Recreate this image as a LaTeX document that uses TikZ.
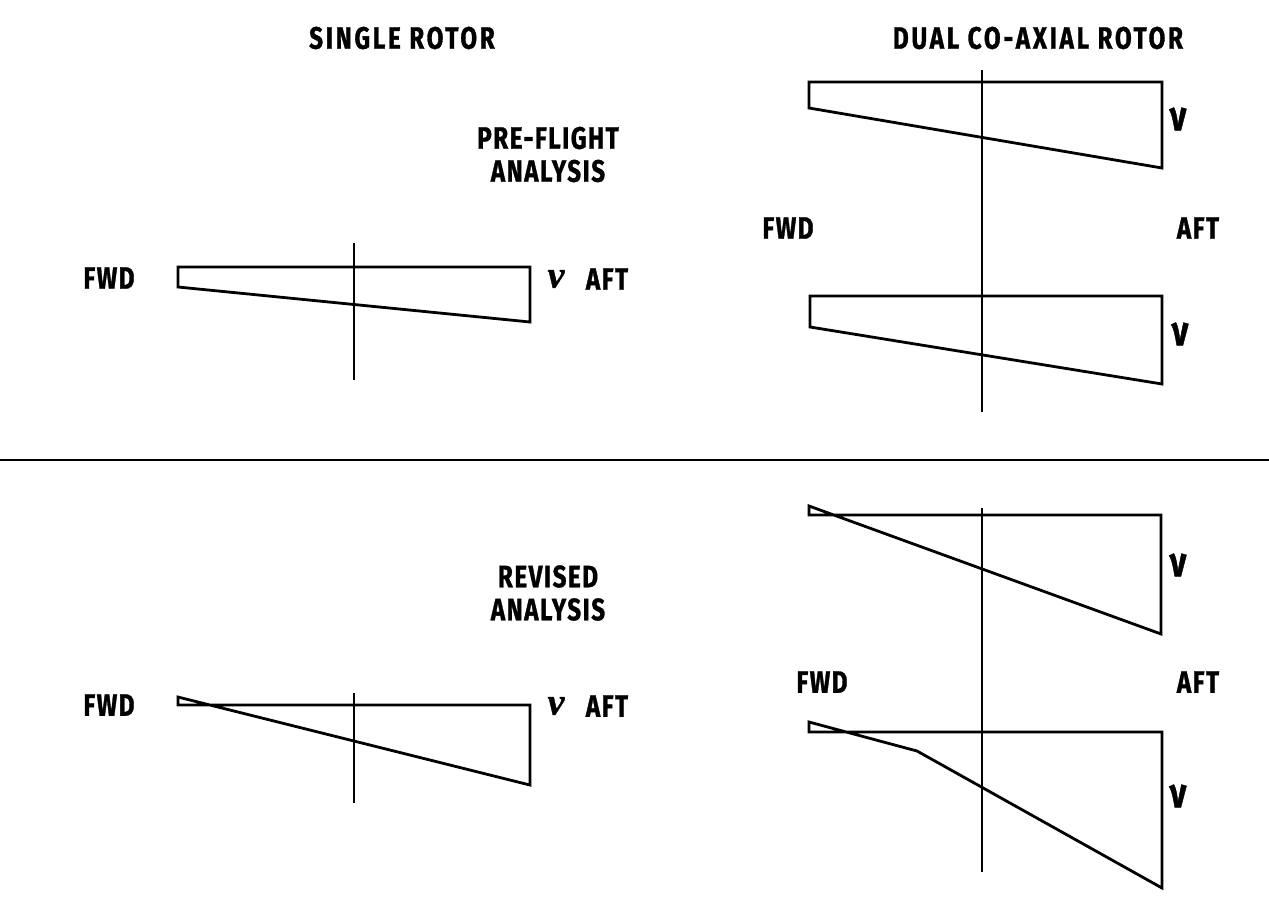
\documentclass[tikz,border=0pt]{standalone}
\usepackage{fontspec}
\newfontfamily\labfont{Fira Sans}[FakeStretch=0.78,LetterSpace=5,FakeBold=1]
\newfontfamily\titfont{Fira Sans}[FakeStretch=0.78,LetterSpace=9,FakeBold=1]
\newfontfamily\nufont{Liberation Serif}[FakeBold=1]
\begin{document}
\begin{tikzpicture}[x=1pt,y=-1pt,
  lab/.style={font=\labfont\bfseries\fontsize{31}{33}\selectfont, inner sep=0pt, align=center},
  tit/.style={font=\titfont\bfseries\fontsize{31}{33}\selectfont, inner sep=0pt, align=center},
  nuit/.style={font=\nufont\bfseries\itshape\fontsize{38}{40}\selectfont, inner sep=0pt},
  nuup/.style={font=\labfont\bfseries\fontsize{42}{44}\selectfont, inner sep=0pt},
  diag/.style={line width=2.8pt, line join=miter},
  axisline/.style={line width=2.5pt}]
\useasboundingbox (0,0) rectangle (1269,900);

% titles
\node[tit] (t1) at (402,38) {SINGLE ROTOR};
\node[tit] (t2) at (1038,38) {DUAL CO-AXIAL ROTOR};
\node[lab] (pf) at (548,154.5) {PRE-FLIGHT\\ANALYSIS};
\node[lab] (rv) at (548,593) {REVISED\\ANALYSIS};

% separator
\coordinate (sL) at (0,460);
\coordinate (sR) at (1269,460);
\draw[line width=2.5pt] (sL) -- (sR);

% ---------- single rotor, pre-flight
\draw[diag] (178,267) -- (530,267) -- (530,322) -- (178,287) -- cycle;
\draw[axisline] (354,243) -- (354,380);
\node[lab] (f1) at (109,278) {FWD};
\node[nuit] (n1) at (556,279) {ν};
\node[lab] (a1) at (607,279) {AFT};

% ---------- dual rotor, pre-flight
\draw[diag] (809,82) -- (1162,82) -- (1162,168) -- (809,108) -- cycle;
\draw[diag] (810,296) -- (1162,296) -- (1162,384) -- (810,327) -- cycle;
\draw[axisline] (982,70) -- (982,412);
\node[nuup] (n2) at (1178,119) {ν};
\node[nuup] (n3) at (1180,334) {ν};
\node[lab] (f2) at (788,228) {FWD};
\node[lab] (a2) at (1198,228) {AFT};

% ---------- single rotor, revised
\draw[diag] (178,697) -- (178,705) -- (530,705) -- (530,785) -- cycle;
\draw[axisline] (354,693) -- (354,803);
\node[lab] (f3) at (109,705) {FWD};
\node[nuit] (n4) at (556,706) {ν};
\node[lab] (a3) at (607,706) {AFT};

% ---------- dual rotor, revised
\draw[diag] (809,506) -- (809,515) -- (1161,515) -- (1161,634) -- cycle;
\draw[diag] (809,722) -- (809,732) -- (1162,732) -- (1162,888) -- (917,751) -- cycle;
\draw[axisline] (982,508) -- (982,872);
\node[nuup] (n5) at (1178,565) {ν};
\node[nuup] (n6) at (1178,796) {ν};
\node[lab] (f4) at (822,682) {FWD};
\node[lab] (a4) at (1198,682) {AFT};
\end{tikzpicture}
\end{document}
